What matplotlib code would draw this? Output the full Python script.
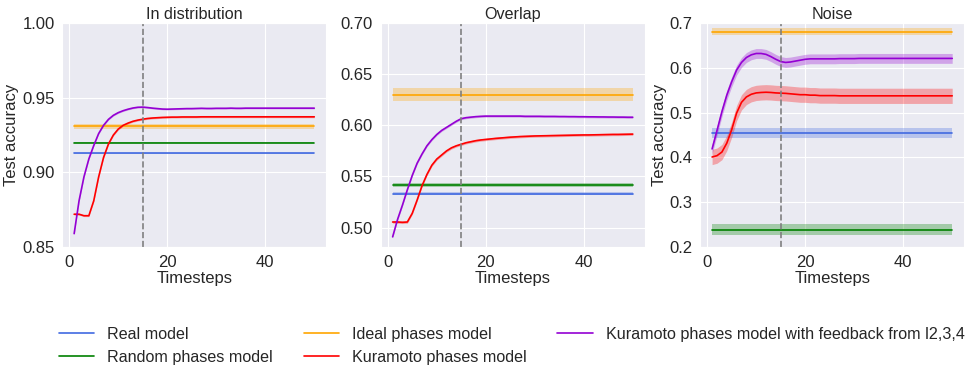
import matplotlib
matplotlib.use("Agg")
import matplotlib.pyplot as plt
import numpy as np
import seaborn as sns

sns.set_style("darkgrid")
plt.rcParams['font.family'] = ['Liberation Sans', 'DejaVu Sans']

timesteps = np.arange(1, 51)
titles = ["In distribution", "Overlap", "Noise"]
labels = ["Real model", "Random phases model", "Ideal phases model",
          "Kuramoto phases model", "Kuramoto phases model with feedback from l2,3,4"]
colors = ["royalblue", "green", "orange", "red", "darkviolet"]

# flat baselines: (mean, std) per panel for real / random / ideal
real_mean = [0.9127, 0.5333, 0.4545]
real_std = [0.0004, 0.0012, 0.011]
random_mean = [0.9200, 0.5418, 0.2390]
random_std = [0.0004, 0.0018, 0.012]
ideal_mean = [0.9310, 0.6300, 0.6810]
ideal_std = [0.0017, 0.0062, 0.007]

# kuramoto curves
kura_in = [0.872, 0.872, 0.871, 0.871, 0.881, 0.897, 0.910, 0.919, 0.925, 0.929,
           0.9315, 0.9330, 0.9342, 0.9350, 0.9356, 0.9361, 0.9364, 0.9366, 0.9368, 0.9369,
           0.9370, 0.9370, 0.9371, 0.9371, 0.9371, 0.9371, 0.9372, 0.9372, 0.9372, 0.9372,
           0.9372, 0.9372, 0.9372, 0.9372, 0.9372, 0.9372, 0.9372, 0.9372, 0.9372, 0.9372,
           0.9372, 0.9372, 0.9372, 0.9372, 0.9372, 0.9372, 0.9372, 0.9372, 0.9372, 0.9372]
kura_overlap = [0.5055, 0.5055, 0.5052, 0.5055, 0.514, 0.527, 0.541, 0.552, 0.561, 0.567,
                0.571, 0.575, 0.578, 0.580, 0.5815, 0.583, 0.584, 0.585, 0.5857, 0.5862,
                0.5867, 0.5872, 0.5876, 0.5880, 0.5884, 0.5887, 0.5890, 0.5892, 0.5894, 0.5896,
                0.5897, 0.5898, 0.5899, 0.5900, 0.5901, 0.5902, 0.5903, 0.5904, 0.5905, 0.5906,
                0.5906, 0.5907, 0.5908, 0.5909, 0.5910, 0.5911, 0.5911, 0.5912, 0.5913, 0.5914]
kura_noise = [0.401, 0.404, 0.412, 0.432, 0.462, 0.499, 0.523, 0.535, 0.541, 0.544,
              0.545, 0.5455, 0.545, 0.544, 0.5435, 0.543, 0.542, 0.541, 0.540, 0.540,
              0.539, 0.539, 0.538, 0.538, 0.538, 0.538, 0.5375, 0.5375, 0.5375, 0.5375,
              0.5375, 0.5375, 0.5375, 0.5375, 0.5375, 0.5375, 0.5375, 0.5375, 0.5375, 0.5375,
              0.5375, 0.5375, 0.5375, 0.5375, 0.5375, 0.5375, 0.5375, 0.5375, 0.5375, 0.5375]
kura_std = [0.0006, 0.0012, 0.017]

# kuramoto with feedback curves
fb_in = [0.859, 0.881, 0.897, 0.909, 0.918, 0.926, 0.9315, 0.9355, 0.9382, 0.9400,
         0.9413, 0.9423, 0.9431, 0.9436, 0.9437, 0.9434, 0.9430, 0.9427, 0.9424, 0.9423,
         0.9424, 0.9425, 0.9426, 0.9427, 0.9427, 0.9428, 0.9429, 0.9428, 0.9428, 0.9429,
         0.9429, 0.9429, 0.9430, 0.9429, 0.9429, 0.9430, 0.9430, 0.9430, 0.9430, 0.9430,
         0.9430, 0.9430, 0.9430, 0.9430, 0.9430, 0.9430, 0.9430, 0.9430, 0.9430, 0.9430]
fb_overlap = [0.491, 0.508, 0.522, 0.537, 0.551, 0.563, 0.572, 0.580, 0.586, 0.591,
              0.595, 0.598, 0.601, 0.604, 0.6065, 0.6075, 0.608, 0.6085, 0.6088, 0.609,
              0.609, 0.609, 0.609, 0.609, 0.609, 0.609, 0.609, 0.6088, 0.6088, 0.6088,
              0.6088, 0.6087, 0.6087, 0.6087, 0.6086, 0.6086, 0.6085, 0.6085, 0.6084, 0.6084,
              0.6083, 0.6083, 0.6082, 0.6082, 0.6081, 0.6081, 0.6080, 0.6080, 0.6079, 0.6079]
fb_noise = [0.419, 0.460, 0.502, 0.539, 0.569, 0.595, 0.612, 0.623, 0.629, 0.632,
            0.632, 0.630, 0.625, 0.619, 0.614, 0.612, 0.613, 0.615, 0.617, 0.619,
            0.620, 0.620, 0.620, 0.620, 0.620, 0.620, 0.6205, 0.6205, 0.6205, 0.6205,
            0.621, 0.621, 0.621, 0.621, 0.621, 0.621, 0.621, 0.621, 0.621, 0.621,
            0.621, 0.621, 0.621, 0.621, 0.621, 0.621, 0.621, 0.621, 0.621, 0.621]
fb_std = [0.0005, 0.0010, 0.011]

kura_all = [kura_in, kura_overlap, kura_noise]
fb_all = [fb_in, fb_overlap, fb_noise]
ylims = [(0.85, 1.0), (0.481, 0.70), (0.2, 0.7)]
yticks = [[0.85, 0.90, 0.95, 1.00], [0.50, 0.55, 0.60, 0.65, 0.70], [0.2, 0.3, 0.4, 0.5, 0.6, 0.7]]

fig = plt.figure(figsize=(9.71, 3.71), dpi=100)
lefts = [0.064, 0.392, 0.721]
axes = [fig.add_axes([l, 0.334, 0.272, 0.604]) for l in lefts]

for i, ax in enumerate(axes):
    flat = [(real_mean[i], real_std[i]), (random_mean[i], random_std[i]), (ideal_mean[i], ideal_std[i])]
    for k, (m, s) in enumerate(flat):
        y = np.full(len(timesteps), m)
        ax.plot(timesteps, y, color=colors[k], lw=1.2, label=labels[k])
        ax.fill_between(timesteps, y - s, y + s, color=colors[k], alpha=0.3, lw=0)
    for k, (curve, s) in enumerate([(kura_all[i], kura_std[i]), (fb_all[i], fb_std[i])]):
        y = np.array(curve)
        ax.plot(timesteps, y, color=colors[3 + k], lw=1.2, label=labels[3 + k])
        ax.fill_between(timesteps, y - s, y + s, color=colors[3 + k], alpha=0.3, lw=0)
    ax.axvline(15, color="gray", ls="--", lw=1.2)
    ax.set_ylim(*ylims[i])
    ax.set_yticks(yticks[i])
    if i == 2:
        ax.set_yticklabels(["%.1f" % v for v in yticks[i]])
    else:
        ax.set_yticklabels(["%.2f" % v for v in yticks[i]])
    ax.set_xticks([0, 20, 40])
    ax.set_title(titles[i], fontsize=11.6, pad=3)
    ax.set_xlabel("Timesteps", fontsize=12, labelpad=1)
    ax.tick_params(labelsize=12, pad=2)
    if i != 1:
        ax.set_ylabel("Test accuracy", fontsize=12, labelpad=2)

handles, labs = axes[0].get_legend_handles_labels()
fig.legend(handles, labs, loc="lower center",
           bbox_to_anchor=(0.527, -0.022), ncol=3, frameon=False, fontsize=11.6,
           columnspacing=1.9, handlelength=2.2)

fig.savefig("out.png", dpi=100)
